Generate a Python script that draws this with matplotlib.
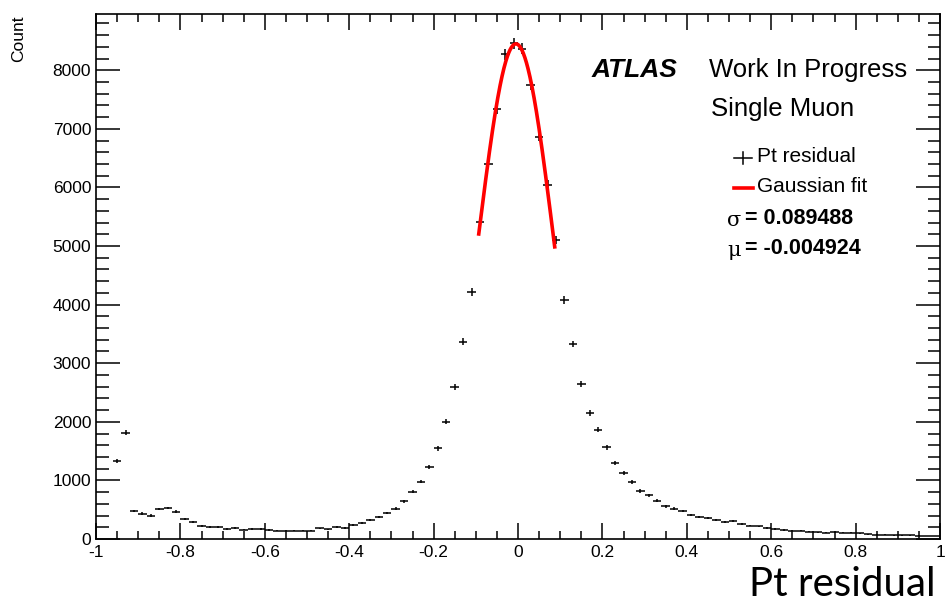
import numpy as np
import matplotlib
matplotlib.use("Agg")
import matplotlib.pyplot as plt
from matplotlib.ticker import MultipleLocator

plt.rcParams['font.family'] = ['Liberation Sans', 'DejaVu Sans']

# histogram bin centres (width 0.02) and counts
bin_width = 0.02
bin_centers = np.round(np.arange(-0.95, 1.0, 0.02), 2)
counts = [
    1330, 1810, 480, 435, 400, 510, 530, 465, 340, 295,      # -0.95 .. -0.77
    225, 205, 205, 175, 190, 160, 170, 170, 150, 140,         # -0.75 .. -0.57
    140, 140, 140, 142, 182, 165, 210, 193, 240, 280,         # -0.55 .. -0.37
    320, 380, 445, 520, 645, 810, 980, 1235, 1545, 2000,      # -0.35 .. -0.17
    2600, 3370, 4220, 5410, 6405, 7333, 8274, 8462, 8371, 7749,  # -0.15 .. 0.03
    6867, 6046, 5099, 4080, 3330, 2640, 2150, 1865, 1565, 1300,  # 0.05 .. 0.23
    1130, 970, 820, 745, 650, 560, 520, 480, 410, 375,        # 0.25 .. 0.43
    360, 325, 290, 300, 260, 230, 215, 190, 175, 155,         # 0.45 .. 0.63
    140, 140, 125, 115, 110, 115, 105, 105, 95, 80,           # 0.65 .. 0.83
    75, 70, 65, 60, 60, 55, 50, 50,                           # 0.85 .. 0.99
]
counts = np.array(counts, dtype=float)

# gaussian fit parameters (from the stats text)
fit_sigma = 0.089488
fit_mu = -0.004924
fit_const = 8450
fit_range = (-0.093, 0.087)

W, H = 949, 604
fig = plt.figure(figsize=(W / 100, H / 100), dpi=100)
ax = fig.add_axes([96 / W, 1 - 539 / H, 844 / W, 525 / H])

ax.errorbar(bin_centers, counts, xerr=bin_width / 2, yerr=np.sqrt(counts),
            fmt='none', ecolor='black', elinewidth=1.1, capsize=0)

xf = np.linspace(fit_range[0], fit_range[1], 200)
yf = fit_const * np.exp(-0.5 * ((xf - fit_mu) / fit_sigma) ** 2)
ax.plot(xf, yf, color='#ff0000', lw=2.6)

ax.set_xlim(-1, 1)
ax.set_ylim(0, 8960)
ax.xaxis.set_major_locator(MultipleLocator(0.2))
ax.xaxis.set_minor_locator(MultipleLocator(0.05))
ax.yaxis.set_major_locator(MultipleLocator(1000))
ax.yaxis.set_minor_locator(MultipleLocator(200))
ax.xaxis.set_major_formatter(plt.FuncFormatter(lambda v, p: '%g' % round(v, 2)))
for s in ax.spines.values():
    s.set_linewidth(1.2)
ax.tick_params(axis='x', which='major', direction='in', length=11.5, width=1.1,
               top=True, labelsize=12.5, pad=4.5)
ax.tick_params(axis='x', which='minor', direction='in', length=5.8, width=1.1, top=True)
ax.tick_params(axis='y', which='major', direction='in', length=17, width=1.1,
               right=True, labelsize=12.5, pad=3.5)
ax.tick_params(axis='y', which='minor', direction='in', length=9, width=1.1, right=True)

# y axis title at the top left, ROOT style
fig.text(19 / W, 1 - 15 / H, 'Count', rotation=90, ha='center', va='top', fontsize=12.5)

# labels
fig.text(592 / W, 1 - 70 / H, 'ATLAS', fontsize=19, fontweight='bold',
         fontstyle='italic', va='center', ha='left')
fig.text(709 / W, 1 - 70 / H, 'Work In Progress', fontsize=18.5, va='center', ha='left')
fig.text(711 / W, 1 - 109 / H, 'Single Muon', fontsize=18.5, va='center', ha='left')

# legend drawn by hand
fig.lines.append(plt.Line2D([734 / W, 752 / W], [1 - 158 / H] * 2, color='black',
                            lw=1.1, transform=fig.transFigure))
fig.lines.append(plt.Line2D([743 / W] * 2, [1 - 152 / H, 1 - 164 / H], color='black',
                            lw=1.1, transform=fig.transFigure))
fig.text(757 / W, 1 - 157 / H, 'Pt residual', fontsize=15, va='center', ha='left')
fig.lines.append(plt.Line2D([734 / W, 753 / W], [1 - 188 / H] * 2, color='#ff0000',
                            lw=2.6, transform=fig.transFigure))
fig.text(757 / W, 1 - 186 / H, 'Gaussian fit', fontsize=15, va='center', ha='left')

fig.text(727 / W, 1 - 220 / H, 'σ', fontsize=15, va='center', ha='left',
         family=['DejaVu Serif'])
fig.text(745 / W, 1 - 219 / H, '= %.6f' % fit_sigma, fontsize=15.5, fontweight='bold',
         va='center', ha='left')
fig.text(727 / W, 1 - 250 / H, 'μ', fontsize=15, va='center', ha='left',
         family=['DejaVu Serif'])
fig.text(745 / W, 1 - 248 / H, '= %.6f' % fit_mu, fontsize=15.5, fontweight='bold',
         va='center', ha='left')

# x axis title (slide text, bottom right)
fig.text(749 / W, 1 - 603 / H, 'Pt residual', fontsize=29, va='bottom', ha='left',
         family=['Lato', 'DejaVu Sans'])

fig.savefig('out.png', dpi=100)
